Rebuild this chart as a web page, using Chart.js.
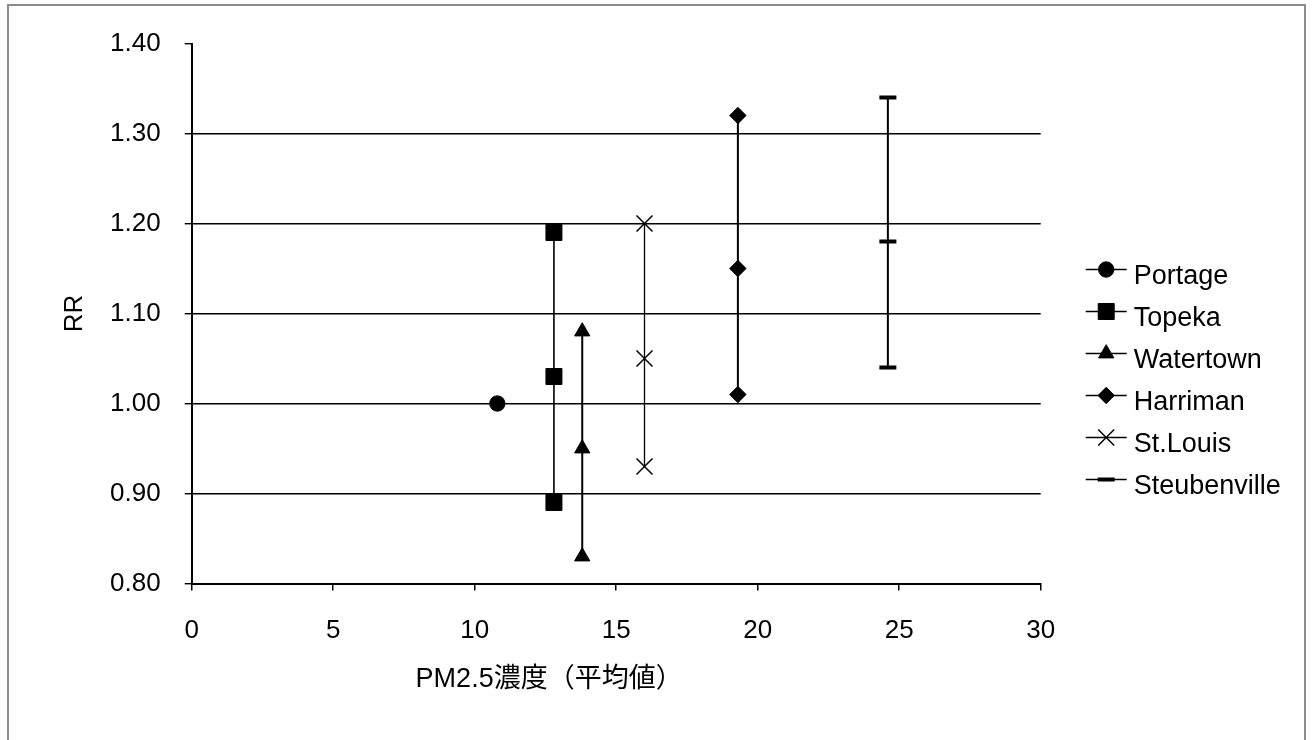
<!DOCTYPE html>
<html>
<head>
<meta charset="utf-8">
<script src="https://cdn.jsdelivr.net/npm/chart.js@4.4.0/dist/chart.umd.min.js"></script>
<style>
  html, body { margin: 0; padding: 0; background: #fff; overflow: hidden; }
  #myChart { position: absolute; left: 0; top: 0; }
  #frame { position: absolute; left: 7px; top: 4px; width: 1299px; height: 800px;
           box-sizing: border-box; border: 2px solid #8c8c8c; pointer-events: none; }
</style>
</head>
<body>
<canvas id="myChart" width="1313" height="740"></canvas>
<div id="frame"></div>
<script>
var FONT = "'Liberation Sans', Arial, 'Noto Sans CJK JP', sans-serif";

// 都市ごとの PM2.5 濃度と RR（下限・点推定・上限）
var cities  = ['Portage', 'Topeka', 'Watertown', 'Harriman', 'St.Louis', 'Steubenville'];
var pm25    = [10.8, 12.8, 13.8, 19.3, 16.0, 24.6];
var rrLower = [null, 0.89, 0.83, 1.01, 0.93, 1.04];
var rrMid   = [1.00, 1.03, 0.95, 1.15, 1.05, 1.18];
var rrUpper = [null, 1.19, 1.08, 1.32, 1.20, 1.34];

var xTicks = [0, 5, 10, 15, 20, 25, 30];
var yTicks = [0.80, 0.90, 1.00, 1.10, 1.20, 1.30, 1.40];
var xTitle = 'PM2.5濃度（平均値）';
var yTitle = 'RR';

// マーカーの見た目
var markerStyle  = ['circle', 'rect', 'triangle', 'rectRot', 'crossRot', 'line'];
var markerRadius = [7.7, 11.3, 8.8, 8.2, 11.3, 8.5];
var markerBorder = [1, 1, 1, 1, 1.5, 4];
var lineWidths   = [2, 1.6, 2, 2, 1.3, 2];

var datasets = cities.map(function (name, i) {
  var pts = [];
  if (rrLower[i] != null) pts.push({ x: pm25[i], y: rrLower[i] });
  pts.push({ x: pm25[i], y: rrMid[i] });
  if (rrUpper[i] != null) pts.push({ x: pm25[i], y: rrUpper[i] });
  return {
    label: name,
    data: pts,
    showLine: true,
    borderColor: '#000',
    borderWidth: lineWidths[i],
    pointStyle: markerStyle[i],
    pointRadius: markerRadius[i],
    pointBackgroundColor: '#000',
    pointBorderColor: '#000',
    pointBorderWidth: markerBorder[i]
  };
});

// x軸タイトル（やや左寄り）
var xTitlePlugin = {
  id: 'xTitle',
  afterDraw: function (chart) {
    var a = chart.chartArea, ctx = chart.ctx;
    ctx.save();
    ctx.font = '27px ' + FONT;
    ctx.fillStyle = '#000';
    ctx.textAlign = 'center';
    ctx.textBaseline = 'middle';
    ctx.fillText(xTitle, a.left + (a.right - a.left) * 0.421, a.bottom + 96);
    ctx.restore();
  }
};

// 右側の凡例（線＋マーカー）
var legendPlugin = {
  id: 'sideLegend',
  afterDraw: function (chart) {
    var a = chart.chartArea, ctx = chart.ctx;
    var x0 = a.right + 45, y0 = a.top + 226, step = 42;
    ctx.save();
    chart.data.datasets.forEach(function (ds, i) {
      var cy = y0 + i * step;
      ctx.strokeStyle = '#000';
      ctx.lineWidth = 1.5;
      ctx.beginPath();
      ctx.moveTo(x0, cy);
      ctx.lineTo(x0 + 41, cy);
      ctx.stroke();
      ctx.fillStyle = '#000';
      ctx.lineWidth = ds.pointBorderWidth;
      Chart.helpers.drawPoint(ctx, {
        pointStyle: ds.pointStyle, radius: ds.pointRadius,
        borderWidth: ds.pointBorderWidth, rotation: 0
      }, x0 + 20.5, cy);
      ctx.font = '27px ' + FONT;
      ctx.textAlign = 'left';
      ctx.textBaseline = 'alphabetic';
      ctx.fillText(ds.label, x0 + 48, cy + 14);
    });
    ctx.restore();
  }
};

var ctx = document.getElementById('myChart').getContext('2d');
var myChart = new Chart(ctx, {
  type: 'scatter',
  data: { datasets: datasets },
  plugins: [xTitlePlugin, legendPlugin],
  options: {
    responsive: false,
    animation: false,
    layout: { padding: { top: 43.5, right: 272.3, bottom: 0, left: 0 } },
    scales: {
      x: {
        type: 'linear',
        min: 0,
        max: 30,
        afterBuildTicks: function (s) { s.ticks = xTicks.map(function (v) { return { value: v }; }); },
        afterFit: function (s) { s.height = 156.5; },
        grid: { drawOnChartArea: false, drawTicks: true, tickLength: 7, tickColor: '#000', lineWidth: 1.5 },
        border: { color: '#000', width: 2 },
        ticks: { color: '#000', font: { family: FONT, size: 26 }, padding: 25, maxRotation: 0, autoSkip: false }
      },
      y: {
        min: 0.8,
        max: 1.4,
        afterBuildTicks: function (s) { s.ticks = yTicks.map(function (v) { return { value: v }; }); },
        afterFit: function (s) { s.width = 191.7; },
        grid: {
          color: function (c) { return Math.abs(c.tick.value - 1.4) < 1e-6 ? 'rgba(0,0,0,0)' : '#000'; },
          lineWidth: 1.4,
          tickLength: 7,
          tickColor: '#000'
        },
        border: { color: '#000', width: 2 },
        ticks: {
          color: '#000',
          font: { family: FONT, size: 26 },
          padding: 24,
          autoSkip: false,
          callback: function (v) { return v.toFixed(2); }
        },
        title: {
          display: true,
          text: yTitle,
          color: '#000',
          font: { family: FONT, size: 26 },
          padding: { top: 59, bottom: 0 }
        }
      }
    },
    plugins: {
      legend: { display: false },
      tooltip: { enabled: false }
    }
  }
});
</script>
</body>
</html>
